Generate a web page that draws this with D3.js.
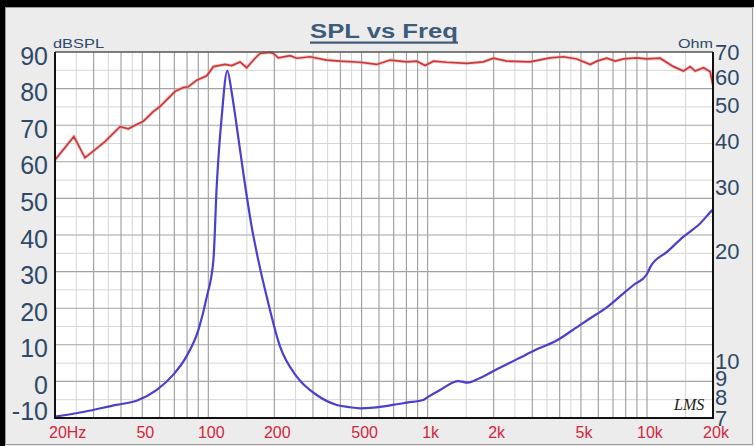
<!DOCTYPE html>
<html><head><meta charset="utf-8">
<script src="https://cdn.jsdelivr.net/npm/d3@7"></script>
<style>html,body{margin:0;padding:0;background:#ececec;}svg{display:block;}</style>
</head><body>
<script>
// ---- data ----
const splFreq = [20,24.4,27.4,29.4,33.8,39.6,43.2,47.1,50.6,56.1,60.2,70.5,76.9,81.1,88.6,98.4,105.5,119.2,127.9,139.6,149.6,163.3,172.2,191,198,208.6,236,253,291,346,399,492,586,675,804,893,974,1063,1223,1508,1796,1995,2297,2931,3617,4160,4789,5512,5909,6558,7159,7813,8995,9989,11485,13213,14678,15740,16590,18108,19423,20000];
const splDb   = [60.5,66.9,61.1,62.6,65.5,69.6,69.0,70.2,71.1,73.7,75.1,79.2,80.3,80.5,82.3,83.5,86.0,86.6,86.3,87.3,85.7,88.3,89.6,89.9,89.6,88.4,89.0,88.3,88.7,87.8,87.5,87.2,86.6,87.8,87.3,87.5,86.3,87.5,87.2,86.9,87.3,88.3,87.5,87.3,88.4,88.7,88.1,86.6,87.5,88.3,87.5,88.1,88.4,88.1,88.3,86.0,84.8,86.0,84.8,85.7,84.6,80.8];
const impFreq = [20,27.2,38,47.1,58.2,69.1,79.4,90.2,98.4,105.5,109.2,115.1,122.1,128,134.8,144.5,157.7,169,184.7,212.5,253,312,385,442,492,565,695,804,954,996,1140,1379,1524,1724,2110,2602,3218,3857,4593,5512,6558,7813,8691,9932,10376,12376,14678,17458,19740,20000];
const impOhm  = [7.06,7.28,7.60,7.80,8.35,9.18,10.3,12.2,15.0,18.9,30.0,46.6,62.2,54.0,43.8,32.6,23.3,18.9,15.0,10.96,9.08,8.09,7.60,7.49,7.44,7.47,7.60,7.71,7.84,7.97,8.35,8.83,8.74,8.99,9.57,10.19,10.85,11.38,12.18,13.11,14.04,15.34,16.16,17.21,18.14,19.93,21.9,23.8,25.8,26.0];
const xTickVals   = [20,50,100,200,500,1000,2000,5000,10000,20000];
const xTickLabels = ["20Hz","50","100","200","500","1k","2k","5k","10k","20k"];
const yLeftTicks  = [90,80,70,60,50,40,30,20,10,0,-10];
const yRightTicks = [70,60,50,40,30,20,10,9,8,7];
const gridMults   = [1,1.5,2,2.5,3,3.5,4,4.5,5,6,7,8,9];
const titleText = "SPL vs Freq";

// ---- layout ----
const W = 754, H = 446;
const L = 55, R = 713, T = 52, B = 418;
const svg = d3.select("body").append("svg").attr("width", W).attr("height", H);

svg.append("rect").attr("width", W).attr("height", H).attr("fill", "#ececec");
svg.append("rect").attr("x",5.5).attr("y",7.5).attr("width",W-7).attr("height",H-9)
  .attr("fill","none").attr("stroke","#9a9a9a").attr("stroke-width",1);
svg.append("rect").attr("x",0).attr("y",0).attr("width",W).attr("height",7).attr("fill","#000");
svg.append("rect").attr("x",0).attr("y",0).attr("width",5).attr("height",H).attr("fill","#000");

const x  = d3.scaleLog().domain([20,20000]).range([L,R]);
const yL = d3.scaleLinear().domain([-10,90]).range([B,T]);
const yR = d3.scaleLog().domain([7,70]).range([B,T]);

// plot background
svg.append("rect").attr("x",L).attr("y",T).attr("width",R-L).attr("height",B-T).attr("fill","#fff");

// grid
const vGrid = [];
for (let k = 1; k <= 4; k++) gridMults.forEach(m => { const v = m*Math.pow(10,k); if (v > 20 && v < 20000) vGrid.push({v, major: Number.isInteger(m)}); });
const g = svg.append("g");
vGrid.filter(d=>!d.major).forEach(d => g.append("line").attr("x1",x(d.v)).attr("x2",x(d.v)).attr("y1",T).attr("y2",B).attr("stroke","#d6d6d6").attr("stroke-width",1));
const hGrid = d3.range(-5, 90, 5);
hGrid.filter(v=>v%10!==0).forEach(v => g.append("line").attr("x1",L).attr("x2",R).attr("y1",yL(v)).attr("y2",yL(v)).attr("stroke","#d6d6d6").attr("stroke-width",1));
vGrid.filter(d=>d.major).forEach(d => g.append("line").attr("x1",x(d.v)).attr("x2",x(d.v)).attr("y1",T).attr("y2",B).attr("stroke","#9c9c9c").attr("stroke-width",1.1));
hGrid.filter(v=>v%10===0).forEach(v => g.append("line").attr("x1",L).attr("x2",R).attr("y1",yL(v)).attr("y2",yL(v)).attr("stroke","#a4a4a4").attr("stroke-width",1.1));

// clip
svg.append("clipPath").attr("id","pc").append("rect").attr("x",L).attr("y",T-1).attr("width",R-L).attr("height",B-T+2);

const splData = splFreq.map((f,i)=>[f,splDb[i]]);
const impData = impFreq.map((f,i)=>[f,impOhm[i]]);
const splLine = d3.line().x(d=>x(d[0])).y(d=>yL(d[1])).curve(d3.curveLinear);

svg.append("path").attr("clip-path","url(#pc)").attr("d", splLine(splData))
  .attr("fill","none").attr("stroke","#eea0a0").attr("stroke-width",3.4).attr("stroke-opacity",0.55);
svg.append("path").attr("clip-path","url(#pc)").attr("d", splLine(splData))
  .attr("fill","none").attr("stroke","#cc3838").attr("stroke-width",1.7);

svg.append("path").attr("clip-path","url(#pc)")
  .attr("d", d3.line().x(d=>x(d[0])).y(d=>yR(d[1])).curve(d3.curveMonotoneX)(impData))
  .attr("fill","none").attr("stroke","#4b3fcc").attr("stroke-width",2.2);

// plot frame
svg.append("line").attr("x1",L).attr("x2",R).attr("y1",T).attr("y2",T).attr("stroke","#555").attr("stroke-width",1.5);
svg.append("line").attr("x1",L).attr("x2",L).attr("y1",T).attr("y2",B+1).attr("stroke","#111").attr("stroke-width",2);
svg.append("line").attr("x1",R).attr("x2",R).attr("y1",T).attr("y2",B+1).attr("stroke","#111").attr("stroke-width",2);
svg.append("line").attr("x1",L-1).attr("x2",R+1).attr("y1",B).attr("y2",B).attr("stroke","#111").attr("stroke-width",2);

// left axis labels
const axisColor = "#2e4a68";
svg.append("g").selectAll("text").data(yLeftTicks).join("text")
  .attr("x",48).attr("y",d=>Math.min(yL(d)+12.5,420)).attr("text-anchor","end")
  .attr("font-family","Liberation Sans, Arial, sans-serif").attr("font-size",25).attr("fill",axisColor).text(d=>d);
// right axis labels
svg.append("g").selectAll("text").data(yRightTicks).join("text")
  .attr("x",715).attr("y",d=>yR(d)+8).attr("text-anchor","start")
  .attr("font-family","Liberation Sans, Arial, sans-serif").attr("font-size",22).attr("fill",axisColor).text(d=>d);
// x labels
svg.append("g").selectAll("text").data(xTickVals).join("text")
  .attr("x",(d,i)=> i===0 ? x(d)-6 : x(d)+3).attr("y",438)
  .attr("text-anchor",(d,i)=> i===0 ? "start" : "middle")
  .attr("font-family","Liberation Sans, Arial, sans-serif").attr("font-size",16).attr("fill","#d2263c")
  .text((d,i)=>xTickLabels[i]);

// unit labels
svg.append("text").attr("x",53).attr("y",48).attr("font-family","Liberation Sans, Arial, sans-serif")
  .attr("font-size",13).attr("fill",axisColor).attr("textLength",51).attr("lengthAdjust","spacingAndGlyphs").text("dBSPL");
svg.append("text").attr("x",678).attr("y",48).attr("font-family","Liberation Sans, Arial, sans-serif")
  .attr("font-size",13).attr("fill",axisColor).attr("textLength",35).attr("lengthAdjust","spacingAndGlyphs").text("Ohm");

// title
svg.append("text").attr("x",310).attr("y",37.5).attr("font-family","Liberation Sans, Arial, sans-serif")
  .attr("font-weight","bold").attr("font-size",20).attr("fill","#3d5b7a")
  .attr("textLength",148).attr("lengthAdjust","spacingAndGlyphs").text(titleText);
svg.append("rect").attr("x",310).attr("y",41.5).attr("width",148).attr("height",2.2).attr("fill","#3d5b7a");

// logo
svg.append("text").attr("x",674).attr("y",410).attr("font-family","Liberation Serif, serif")
  .attr("font-style","italic").attr("font-size",16).attr("fill","#222").text("LMS");
</script>
</body></html>
